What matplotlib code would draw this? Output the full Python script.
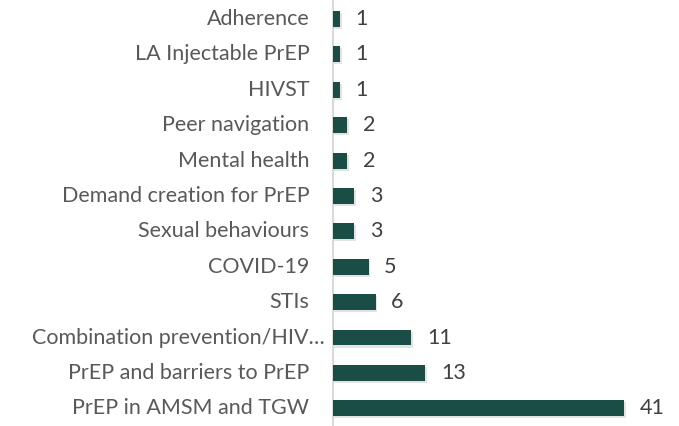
import matplotlib
matplotlib.use("Agg")
import matplotlib.pyplot as plt
import matplotlib.patheffects as pe

categories = ["Adherence", "LA Injectable PrEP", "HIVST", "Peer navigation",
              "Mental health", "Demand creation for PrEP", "Sexual behaviours",
              "COVID-19", "STIs", "Combination prevention/HIV…",
              "PrEP and barriers to PrEP", "PrEP in AMSM and TGW"]
values = [1, 1, 1, 2, 2, 3, 3, 5, 6, 11, 13, 41]

plt.rcParams['font.family'] = ['Lato', 'DejaVu Sans']

fig = plt.figure(figsize=(6.79, 4.26), dpi=100)
ax = fig.add_axes([0.4905, 0.0, 0.471, 0.997])

y = list(range(len(categories)))
bars = ax.barh(y, values, height=0.45, color="#1B4D47", zorder=3)
for b in bars:
    b.set_path_effects([pe.SimplePatchShadow(offset=(1.0, -1.5), shadow_rgbFace="#b0b0b0", alpha=0.35), pe.Normal()])

for yi, v in zip(y, values):
    ax.text(v + 2.2, yi, str(v), va="center", ha="left", fontsize=15.5, color="#404040")

for yi, lab in zip(y, categories):
    off = -6 if lab.endswith("…") else -17
    ax.annotate(lab, xy=(0, yi), xycoords=("axes fraction", "data"),
                xytext=(off, 0), textcoords="offset points",
                ha="right", va="center", fontsize=15.5, color="#595959")

ax.set_yticks([])
ax.set_xticks([])
ax.set_xlim(0, 45)
ax.set_ylim(len(categories) - 0.5, -0.5)
for s in ["top", "right", "bottom"]:
    ax.spines[s].set_visible(False)
ax.spines["left"].set_color("#d9d9d9")
ax.spines["left"].set_linewidth(1.5)

fig.savefig("out.png", dpi=100)
